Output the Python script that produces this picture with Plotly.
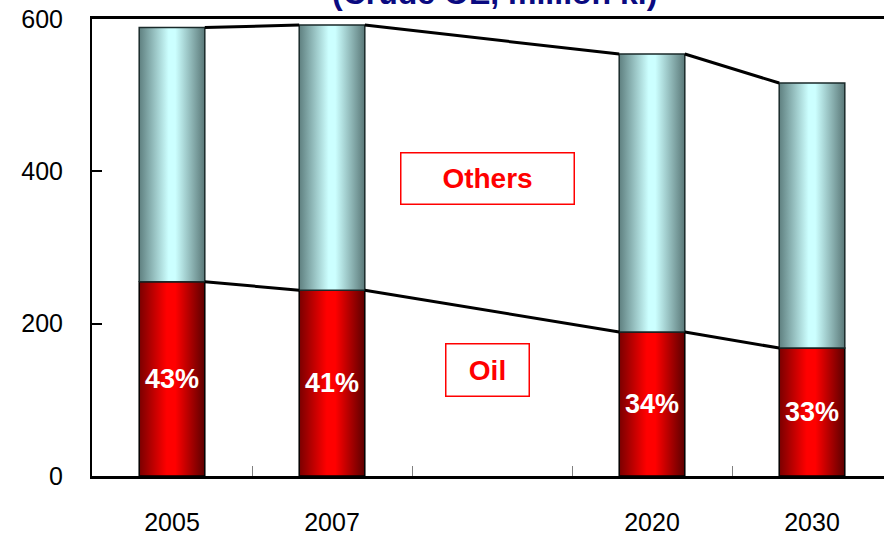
import plotly.graph_objects as go

# ---- data ----
years = ["2005", "2007", "2020", "2030"]
slot_pos = [0, 1, 3, 4]            # category slots (one empty slot between 2007 and 2020)
oil = [255, 244, 189, 168]         # million kl (crude OE)
others = [334, 348, 365, 348]
oil_share = ["43%", "41%", "34%", "33%"]
y_ticks = [0, 200, 400, 600]

FONT = "Liberation Sans, Arial, sans-serif"
bar_w = 0.41
hw = bar_w / 2

red_scale = [[0, "#7a0000"], [0.42, "#ff0000"], [0.55, "#ff0000"], [1, "#5c0000"]]
cyan_scale = [[0, "#5f8080"], [0.45, "#ccffff"], [0.55, "#ccffff"], [1, "#5a7878"]]

fig = go.Figure()

totals = [o + t for o, t in zip(oil, others)]

for i, p in enumerate(slot_pos):
    x0, x1 = p - hw, p + hw
    # Oil segment
    fig.add_trace(go.Scatter(
        x=[x0, x1, x1, x0, x0], y=[0, 0, oil[i], oil[i], 0],
        mode="lines", fill="toself",
        fillgradient=dict(type="horizontal", colorscale=red_scale),
        line=dict(color="#000000", width=1.5),
        hoverinfo="skip", showlegend=False))
    # Others segment
    fig.add_trace(go.Scatter(
        x=[x0, x1, x1, x0, x0], y=[oil[i], oil[i], totals[i], totals[i], oil[i]],
        mode="lines", fill="toself",
        fillgradient=dict(type="horizontal", colorscale=cyan_scale),
        line=dict(color="#1a2a2a", width=1.5),
        hoverinfo="skip", showlegend=False))

# connecting lines between bars
for series in (totals, oil):
    lx, ly = [], []
    for i in range(len(slot_pos) - 1):
        lx += [slot_pos[i] + hw, slot_pos[i + 1] - hw, None]
        ly += [series[i], series[i + 1], None]
    fig.add_trace(go.Scatter(x=lx, y=ly, mode="lines",
                             line=dict(color="#000000", width=3),
                             hoverinfo="skip", showlegend=False))

annotations = []
for i, p in enumerate(slot_pos):
    annotations.append(dict(x=p, y=oil[i] / 2, xref="x", yref="y", text=oil_share[i],
                            showarrow=False,
                            font=dict(family=FONT, size=27, color="#ffffff", weight="bold")))

# category boxes
annotations.append(dict(x=1.97, y=391, xref="x", yref="y", text="Others", showarrow=False,
                        font=dict(family=FONT, size=28, color="#ff0000", weight="bold"),
                        bordercolor="#ff0000", borderwidth=1.5, borderpad=1,
                        width=170, height=48, bgcolor="#ffffff"))
annotations.append(dict(x=1.97, y=139, xref="x", yref="y", text="Oil", showarrow=False,
                        font=dict(family=FONT, size=28, color="#ff0000", weight="bold"),
                        bordercolor="#ff0000", borderwidth=1.5, borderpad=1,
                        width=80, height=49, bgcolor="#ffffff"))

# title (mostly cut off at top)
annotations.append(dict(x=(494 - 92) / 792, y=1, xref="paper", yref="paper",
                        yanchor="bottom", yshift=6, showarrow=False,
                        text="(Crude OE, million kl)",
                        font=dict(family=FONT, size=32, color="#0a0a80", weight="bold")))

fig.update_layout(
    width=884, height=537,
    margin=dict(l=92, r=0, t=19, b=61, autoexpand=False),
    paper_bgcolor="#ffffff", plot_bgcolor="#ffffff",
    font=dict(family=FONT, color="#000000"),
    annotations=annotations,
    xaxis=dict(range=[-0.5, 4.45], tickmode="array", tickvals=slot_pos, ticktext=years,
               ticks="", showgrid=False, zeroline=False, automargin=False,
               showline=True, linecolor="#000000", linewidth=3, mirror=True,
               tickfont=dict(family=FONT, size=25, color="#000000"),
               ticklabelstandoff=22,
               minor=dict(tickvals=[0.5, 1.5, 2.5, 3.5], ticks="inside", ticklen=10,
                          tickcolor="#808080", tickwidth=1, showgrid=False)),
    yaxis=dict(range=[0, 600], tickmode="array", tickvals=y_ticks,
               ticks="inside", ticklen=10, tickwidth=2, tickcolor="#000000",
               showgrid=False, zeroline=False, automargin=False,
               showline=True, linecolor="#000000", linewidth=2,
               tickfont=dict(family=FONT, size=25, color="#000000"),
               ticklabelstandoff=22),
)

fig.write_html("out.html", config={"displayModeBar": False},
               post_script="document.body.style.margin='0px';document.body.style.overflow='hidden';")
